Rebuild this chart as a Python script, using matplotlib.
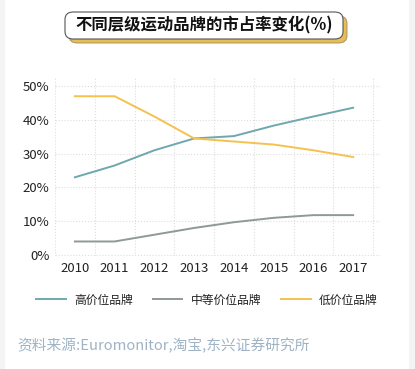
import matplotlib
matplotlib.use("Agg")
import matplotlib.pyplot as plt
from matplotlib.patches import FancyBboxPatch, Rectangle
from matplotlib.ticker import FixedLocator

plt.rcParams['font.family'] = ['Noto Sans CJK SC', 'DejaVu Sans']

years = [2010, 2011, 2012, 2013, 2014, 2015, 2016, 2017]
high = [23.0, 26.5, 31.0, 34.5, 35.2, 38.3, 41.0, 43.6]
mid = [4.0, 4.0, 6.0, 8.0, 9.7, 11.0, 11.8, 11.8]
low = [47.0, 47.0, 41.0, 34.5, 33.6, 32.7, 31.0, 29.0]
labels = ['高价位品牌', '中等价位品牌', '低价位品牌']
colors = ['#6ea8ae', '#8e9998', '#f3c24f']
title = '不同层级运动品牌的市占率变化(%)'
source = '资料来源:Euromonitor,淘宝,东兴证券研究所'

W, H = 415, 369
fig = plt.figure(figsize=(W / 100, H / 100), dpi=100)
fig.patch.set_facecolor('white')

# faint side strips
fig.patches.append(Rectangle((0, 0), 5 / W, 1, transform=fig.transFigure,
                             facecolor='#f4f4f4', edgecolor='none'))
fig.patches.append(Rectangle((409 / W, 0), 6 / W, 1, transform=fig.transFigure,
                             facecolor='#f4f4f4', edgecolor='none'))

# title box with yellow shadow
bx, by, bw, bh = 65, 12, 278, 27
fig.patches.append(FancyBboxPatch(((bx + 4) / W, 1 - (by + bh + 4) / H), bw / W, bh / H,
                                  boxstyle='round,pad=0,rounding_size=0.02',
                                  transform=fig.transFigure, facecolor='#e9bd55',
                                  edgecolor='#9a8a60', linewidth=0.6))
fig.patches.append(FancyBboxPatch((bx / W, 1 - (by + bh) / H), bw / W, bh / H,
                                  boxstyle='round,pad=0,rounding_size=0.02',
                                  transform=fig.transFigure, facecolor='white',
                                  edgecolor='#555555', linewidth=0.8))
fig.text((bx + bw / 2) / W, 1 - (by + bh / 2) / H, title, ha='center', va='center',
         fontsize=11.8, fontweight='bold', color='#111111')

# axes: x from 55 to 380 px, y from 78 to 256 px
ax = fig.add_axes([55 / W, 1 - 256 / H, (380 - 55) / W, (256 - 78) / H])
for s, c, l in zip([high, mid, low], colors, labels):
    ax.plot(years, s, color=c, linewidth=1.4, label=l)

ax.set_xlim(2009.5, 2017.5 + 7 / 40)
ax.set_ylim(-0.3, 52.4)
ax.set_xticks(years)
ax.set_yticks([0, 10, 20, 30, 40, 50])
ax.set_yticklabels([f'{v}%' for v in [0, 10, 20, 30, 40, 50]])
ax.xaxis.set_minor_locator(FixedLocator([y + 0.5 for y in [2009] + years]))
ax.grid(True, which='major', axis='y', color='#dddddd', linestyle=':', linewidth=0.8)
ax.grid(True, which='minor', axis='x', color='#dddddd', linestyle=':', linewidth=0.8)
ax.tick_params(which='both', length=0)
ax.tick_params(axis='both', labelsize=9.5, colors='#222222')
ax.tick_params(axis='y', pad=4)
ax.tick_params(axis='x', pad=4)
for sp in ax.spines.values():
    sp.set_visible(False)
ax.set_facecolor('none')

leg = fig.legend(loc='center', bbox_to_anchor=(207 / W, 1 - 300 / H), ncol=3,
                 frameon=False, fontsize=8.5, handlelength=2.5, columnspacing=1.7,
                 handletextpad=0.7)
for t in leg.get_texts():
    t.set_color('#222222')

fig.text(17 / W, 1 - 345 / H, source, ha='left', va='center', fontsize=10.6,
         color='#9fb3c4')

fig.savefig('out.png', dpi=100, facecolor='white')
